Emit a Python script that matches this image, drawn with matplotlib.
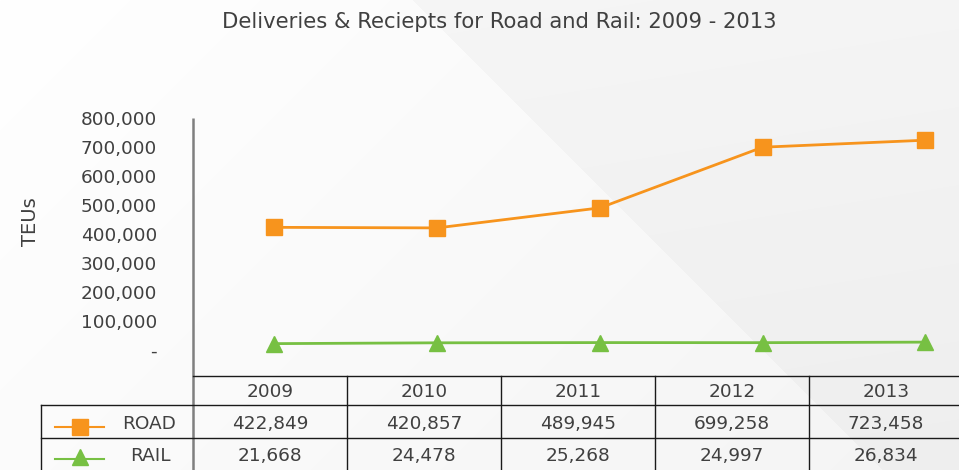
import numpy as np
import matplotlib
matplotlib.use("Agg")
import matplotlib.pyplot as plt
from matplotlib.ticker import FuncFormatter

years = ["2009", "2010", "2011", "2012", "2013"]
road = [422849, 420857, 489945, 699258, 723458]
rail = [21668, 24478, 25268, 24997, 26834]
series_names = ["ROAD", "RAIL"]
title = "Deliveries & Reciepts for Road and Rail: 2009 - 2013"
ylabel = "TEUs"
yticks = [0, 100000, 200000, 300000, 400000, 500000, 600000, 700000, 800000]

ORANGE = "#F7941D"
GREEN = "#77C043"
TXT = "#404040"
FONT = "DejaVu Sans"
FS = 13.3

W, H = 959, 470
fig = plt.figure(figsize=(W / 100, H / 100), dpi=100)

# background gradient
bg = fig.add_axes([0, 0, 1, 1], zorder=-10)
yy, xx = np.mgrid[0:H, 0:W].astype(float)
line_x = 413 + yy * 1.0
left = xx < line_x
img = np.where(left, 255 - 11 * (xx + yy) / (W + H),
               245.5 - 7 * yy / H - 2 * (xx - line_x) / W)
img = np.clip(img, 0, 255) / 255.0
bg.imshow(np.dstack([img, img, img]), extent=[0, W, H, 0], aspect="auto")
bg.set_xlim(0, W)
bg.set_ylim(H, 0)
bg.axis("off")

def fx(px):
    return px / W

def fy(py):
    return 1 - py / H

# main plot axes
ax_left, ax_top, ax_bottom = 193, 118, 376
ax = fig.add_axes([fx(ax_left), fy(ax_bottom), fx(W - ax_left), (ax_bottom - ax_top) / H])
ax.patch.set_alpha(0)
x = np.arange(len(years))
unit = 162.75
ax.set_xlim(-0.5, -0.5 + (W - ax_left) / unit)
ax.set_ylim(-90000, 800000)
ax.plot(x, road, color=ORANGE, lw=2, marker="s", ms=11.5, mec=ORANGE, mfc=ORANGE, zorder=3)
ax.plot(x, rail, color=GREEN, lw=2, marker="^", ms=11.5, mec=GREEN, mfc=GREEN, zorder=3)
for s in ["top", "right", "bottom", "left"]:
    ax.spines[s].set_visible(False)
ax.set_xticks([])
ax.set_yticks(yticks)
ax.yaxis.set_major_formatter(FuncFormatter(lambda v, p: "-" if v == 0 else f"{int(v):,}"))
ax.tick_params(axis="y", length=0, pad=26, labelsize=FS, labelcolor=TXT)
for lab in ax.get_yticklabels():
    lab.set_fontfamily(FONT)

fig.text(fx(30), fy(222), ylabel, rotation=90, ha="center", va="center",
         fontsize=FS + 0.7, color=TXT, family=FONT)
fig.text(fx(499), fy(22), title, ha="center", va="center", fontsize=15.2,
         color=TXT, family=FONT)

# table overlay
ov = fig.add_axes([0, 0, 1, 1], zorder=5)
ov.set_xlim(0, W)
ov.set_ylim(H, 0)
ov.axis("off")
ov.patch.set_alpha(0)

col_w = 154
col_edges = [ax_left + i * col_w for i in range(len(years) + 1)]
LC = "#1a1a1a"
ov.plot([193, 193], [118, 470], color="#7f7f7f", lw=1.8, solid_capstyle="butt")
ov.plot([193, W], [376, 376], color=LC, lw=1)
ov.plot([41, W], [405, 405], color=LC, lw=1)
ov.plot([41, W], [438, 438], color=LC, lw=1)
ov.plot([41, 41], [405, 470], color=LC, lw=1)
for e in col_edges[1:-1]:
    ov.plot([e, e], [376, 470], color=LC, lw=1)

for i, yr in enumerate(years):
    cx = col_edges[i] + col_w / 2
    ov.text(cx, 392, yr, ha="center", va="center", fontsize=FS, color=TXT, family=FONT)
    ov.text(cx, 424, f"{road[i]:,}", ha="center", va="center", fontsize=FS, color=TXT, family=FONT)
    ov.text(cx, 456, f"{rail[i]:,}", ha="center", va="center", fontsize=FS, color=TXT, family=FONT)

# legend keys
ov.plot([55, 104], [427, 427], color=ORANGE, lw=1.5)
ov.plot([80], [427], marker="s", ms=11.5, color=ORANGE)
ov.plot([55, 104], [458.5, 458.5], color=GREEN, lw=1.5)
ov.plot([80], [457], marker="^", ms=11.5, color=GREEN)
ov.text(149, 424, series_names[0], ha="center", va="center", fontsize=FS, color=TXT, family=FONT)
ov.text(150, 456, series_names[1], ha="center", va="center", fontsize=FS, color=TXT, family=FONT)

fig.savefig("out.png", dpi=100)
